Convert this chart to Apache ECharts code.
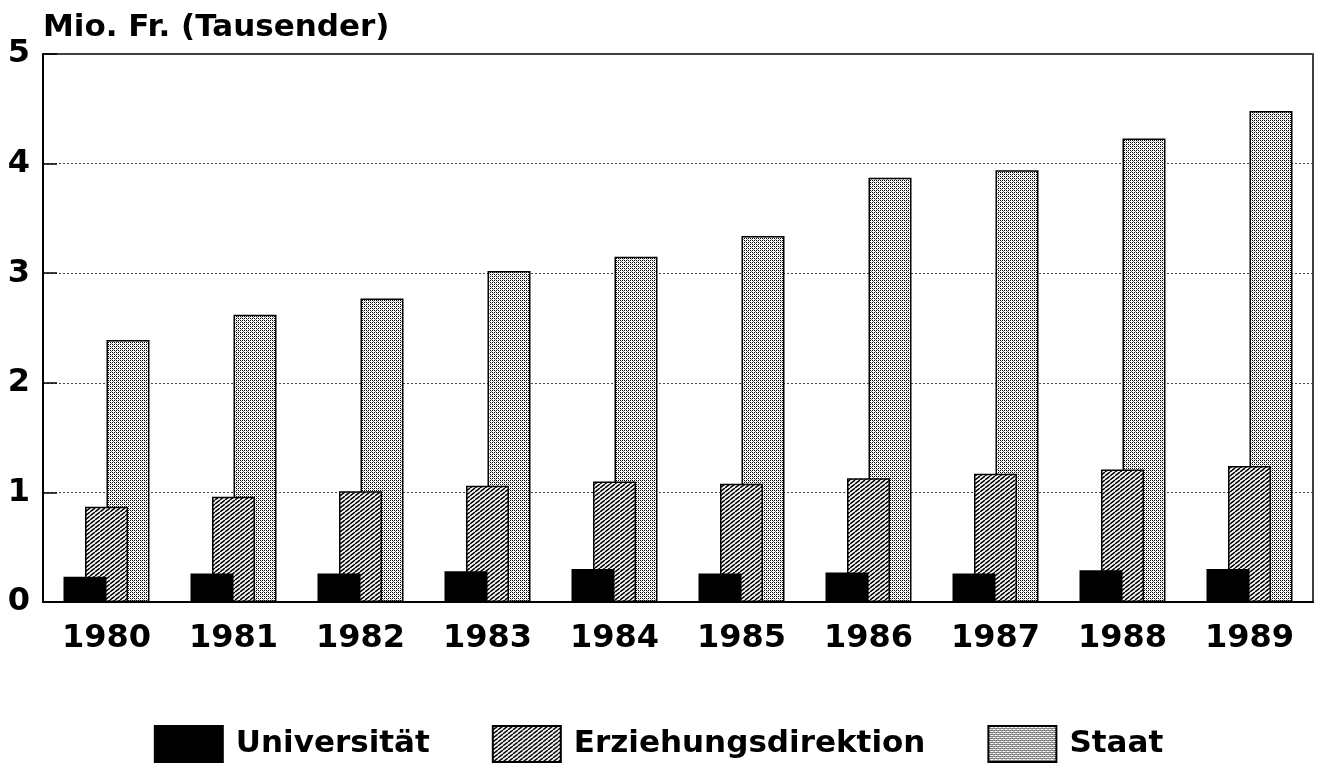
<!DOCTYPE html>
<html>
<head>
<meta charset="utf-8">
<script src="https://cdn.jsdelivr.net/npm/echarts@6/dist/echarts.min.js"></script>
<style>
html,body{margin:0;padding:0;background:#fff;}
#chart{width:1317px;height:768px;}
</style>
</head>
<body>
<div id="chart"></div>
<script>
const years = ['1980','1981','1982','1983','1984','1985','1986','1987','1988','1989'];
const universitaet = [0.23,0.26,0.26,0.28,0.30,0.26,0.27,0.26,0.29,0.30];
const erziehungsdirektion = [0.87,0.96,1.01,1.06,1.10,1.08,1.13,1.17,1.21,1.24];
const staat = [2.39,2.62,2.77,3.02,3.15,3.34,3.87,3.94,4.23,4.48];
const yTicks = [0,1,2,3,4,5];

function hatchPattern(){
  const c = document.createElement('canvas');
  c.width = 5; c.height = 4;
  const g = c.getContext('2d');
  g.fillStyle = '#fff'; g.fillRect(0,0,5,4);
  g.strokeStyle = '#000'; g.lineWidth = 1.5;
  for (let dx of [-5,0,5]) {
    g.beginPath(); g.moveTo(dx,4); g.lineTo(dx+5,0); g.stroke();
  }
  return c;
}
function dotPattern(){
  const c = document.createElement('canvas');
  c.width = 4; c.height = 4;
  const g = c.getContext('2d');
  g.fillStyle = '#fff'; g.fillRect(0,0,4,4);
  g.fillStyle = '#000';
  [[0,0],[2,2],[2,0],[0,2]].forEach(p=>g.fillRect(p[0],p[1],1,1));
  g.fillStyle = '#888';
  [[1,1],[3,3]].forEach(p=>g.fillRect(p[0],p[1],1,1));
  return c;
}
const FONT = 'DejaVu Sans';
const chart = echarts.init(document.getElementById('chart'), null, {renderer:'canvas'});
const border = {borderColor:'#000', borderWidth:1.5};
chart.setOption({
  animation:false,
  backgroundColor:'#fff',
  title:{
    text:'Mio. Fr. (Tausender)', left:38, top:7,
    textStyle:{fontFamily:FONT, fontWeight:'bold', fontSize:31, color:'#000'}
  },
  grid:{left:43, right:4, top:54, bottom:166, show:true, borderColor:'#000', borderWidth:1.5, backgroundColor:'transparent'},
  legend:{
    left:'center', top:720, itemWidth:68, itemHeight:36, itemGap:62,
    icon:'rect',
    data:['Universität','Erziehungsdirektion','Staat'],
    textStyle:{fontFamily:FONT, fontWeight:'bold', fontSize:31, color:'#000', padding:[0,0,0,8]}
  },
  xAxis:{
    type:'category', data:years,
    axisLine:{lineStyle:{color:'#000', width:2}},
    axisTick:{show:false},
    axisLabel:{fontFamily:FONT, fontWeight:'bold', fontSize:32, color:'#000', margin:21},
    splitLine:{show:false}
  },
  yAxis:{
    type:'value', min:yTicks[0], max:yTicks[yTicks.length-1], interval:1,
    axisLine:{show:true, lineStyle:{color:'#000', width:2}},
    axisTick:{show:true, inside:true, length:14, lineStyle:{color:'#000', width:1.5}},
    axisLabel:{fontFamily:FONT, fontWeight:'bold', fontSize:32, color:'#000', margin:13},
    splitLine:{show:true, lineStyle:{color:'#444', width:1, type:[2,2]}}
  },
  series:[
    {name:'Universität', type:'bar', data:universitaet, barWidth:43, barGap:'-50%', z:4,
     itemStyle:Object.assign({color:'#000'}, border)},
    {name:'Erziehungsdirektion', type:'bar', data:erziehungsdirektion, barWidth:43, barGap:'-50%', z:3,
     itemStyle:Object.assign({color:{image:hatchPattern(), repeat:'repeat'}}, border)},
    {name:'Staat', type:'bar', data:staat, barWidth:43, barGap:'-50%', z:2,
     itemStyle:Object.assign({color:{image:dotPattern(), repeat:'repeat'}}, border)}
  ]
});
</script>
</body>
</html>
